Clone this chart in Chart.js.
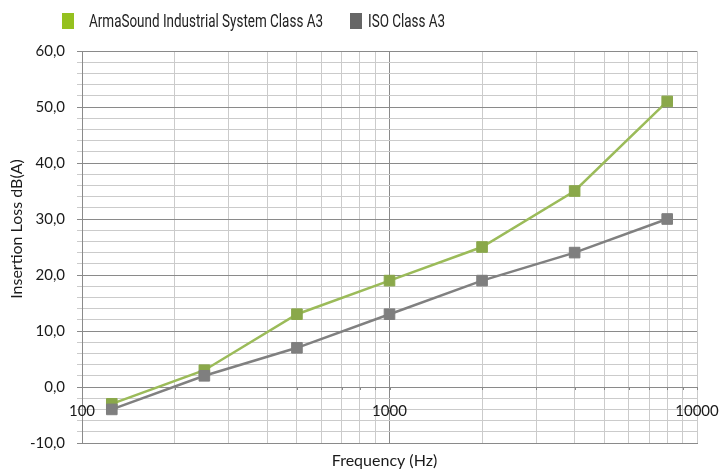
<!DOCTYPE html>
<html>
<head>
<meta charset="utf-8">
<script src="https://cdn.jsdelivr.net/npm/chart.js@4/dist/chart.umd.min.js"></script>
<style>
  html, body { margin: 0; padding: 0; background: #fff; }
  #wrap { width: 722px; height: 472px; }
</style>
</head>
<body>
<div id="wrap"><canvas id="grafico" width="722" height="472"></canvas></div>
<script>
// frequências das bandas de oitava (Hz)
const frequencias = [125, 250, 500, 1000, 2000, 4000, 8000];
const armaSound = [-3, 3, 13, 19, 25, 35, 51];
const isoA3 = [-4, 2, 7, 13, 19, 24, 30];

const nomesSeries = ['ArmaSound Industrial System Class A3', 'ISO Class A3'];

// linhas verticais da grade (escala log) e rótulos
const gradeX = [100, 200, 300, 400, 500, 600, 700, 800, 900,
                1000, 2000, 3000, 4000, 5000, 6000, 7000, 8000, 9000, 10000];
const rotulosX = [100, 1000, 10000];

const FONTE = 'Lato, "Liberation Sans", sans-serif';
const CINZA_FORTE = '#8a8a8a';
const CINZA_FRACO = '#cbcbcb';

function virgula(v) {
    return v.toFixed(1).replace('.', ',');
}

// legenda, títulos dos eixos e rótulos do eixo x sobre a linha do zero
const extras = {
    id: 'extras',
    afterDraw(chart) {
        const ctx = chart.ctx;
        const x = chart.scales.x;
        const y = chart.scales.y;
        const zero = y.getPixelForValue(0);

        ctx.save();

        // pequenos traços do eixo x no zero
        ctx.strokeStyle = CINZA_FORTE;
        ctx.lineWidth = 1;
        gradeX.forEach(v => {
            const px = Math.round(x.getPixelForValue(v)) + 0.5;
            ctx.beginPath();
            ctx.moveTo(px, zero);
            ctx.lineTo(px, zero + 3);
            ctx.stroke();
        });

        ctx.fillStyle = '#1a1a1a';
        ctx.font = '15px ' + FONTE;
        ctx.textAlign = 'center';
        ctx.textBaseline = 'middle';
        rotulosX.forEach(v => {
            ctx.fillText(String(v), x.getPixelForValue(v), zero + 24);
        });

        // títulos dos eixos
        ctx.font = '16px ' + FONTE;
        ctx.fillText('Frequency (Hz)', (x.left + x.right) / 2 - 5, 461);
        ctx.translate(17, 229);
        ctx.rotate(-Math.PI / 2);
        ctx.fillText('Insertion Loss dB(A)', 0, 0);
        ctx.restore();

        // legenda (caixa e texto de cada série), letra estreita
        ctx.save();
        ctx.font = '18px Roboto, sans-serif';
        ctx.textAlign = 'left';
        ctx.textBaseline = 'middle';
        const estreita = 234 / ctx.measureText(nomesSeries[0]).width;
        const coresLegenda = ['#95c11f', '#666666'];
        const caixaX = [62, 350];
        const textoX = [89, 368];
        nomesSeries.forEach((nome, i) => {
            ctx.fillStyle = coresLegenda[i];
            ctx.fillRect(caixaX[i], 13, 12, 16);
            ctx.save();
            ctx.translate(textoX[i], 22);
            ctx.scale(estreita, 1);
            ctx.fillStyle = '#222';
            ctx.fillText(nome, 0, 0);
            ctx.restore();
        });
        ctx.restore();
    }
};

const ctx = document.getElementById('grafico').getContext('2d');

new Chart(ctx, {
    type: 'line',
    data: {
        datasets: [
            {
                label: nomesSeries[0],
                data: frequencias.map((f, i) => ({ x: f, y: armaSound[i] })),
                borderColor: '#9bbb59',
                borderWidth: 2.5,
                pointStyle: 'rect',
                pointRadius: 7.5,
                pointBackgroundColor: '#8aa84a',
                pointBorderColor: '#8aa84a',
                pointBorderWidth: 1,
                tension: 0,
                order: 1
            },
            {
                label: nomesSeries[1],
                data: frequencias.map((f, i) => ({ x: f, y: isoA3[i] })),
                borderColor: '#808080',
                borderWidth: 2.5,
                pointStyle: 'rect',
                pointRadius: 7.5,
                pointBackgroundColor: '#7f7f7f',
                pointBorderColor: '#7f7f7f',
                pointBorderWidth: 1,
                tension: 0,
                order: 0
            }
        ]
    },
    options: {
        responsive: false,
        animation: false,
        layout: { padding: { top: 51, right: 25, bottom: 0, left: 0 } },
        plugins: {
            legend: { display: false },
            tooltip: { enabled: false }
        },
        scales: {
            x: {
                type: 'logarithmic',
                min: 100,
                max: 10000,
                afterBuildTicks: scale => {
                    scale.ticks = gradeX.map(v => ({ value: v }));
                },
                afterFit: scale => { scale.height = 29; },
                ticks: { display: false },
                grid: {
                    drawTicks: false,
                    lineWidth: 1,
                    color: c => (c.tick && (c.tick.value === 1000)) ? CINZA_FORTE : CINZA_FRACO
                },
                border: { color: CINZA_FORTE }
            },
            y: {
                min: -10,
                max: 60,
                afterFit: scale => { scale.width = 82; },
                ticks: {
                    stepSize: 2,
                    autoSkip: false,
                    padding: 12,
                    color: '#1a1a1a',
                    font: { family: FONTE, size: 15 },
                    callback: v => (v % 10 === 0 ? virgula(v) : '')
                },
                grid: {
                    tickLength: 5,
                    lineWidth: 1,
                    color: c => (c.tick && c.tick.value % 10 === 0) ? CINZA_FORTE : CINZA_FRACO
                },
                border: { color: CINZA_FORTE }
            }
        }
    },
    plugins: [extras]
});
</script>
</body>
</html>
